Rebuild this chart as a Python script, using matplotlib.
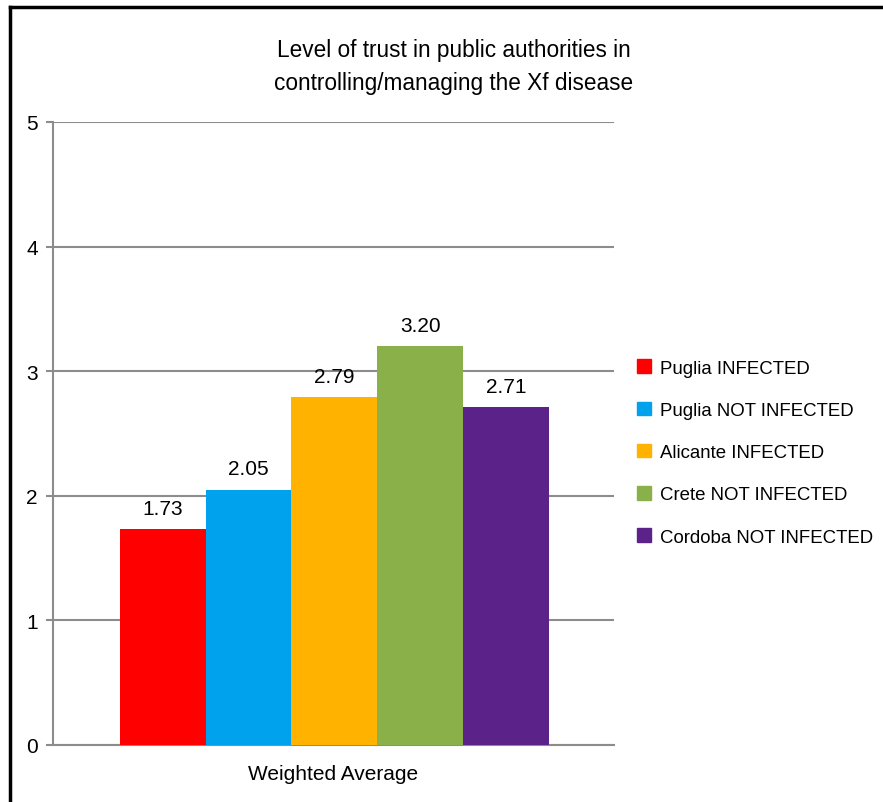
import matplotlib
matplotlib.use("Agg")
import matplotlib.pyplot as plt
from matplotlib.lines import Line2D
from matplotlib.patches import Patch

plt.rcParams['font.family'] = ['Liberation Sans', 'DejaVu Sans']

categories = ["Puglia INFECTED", "Puglia NOT INFECTED", "Alicante INFECTED",
              "Crete NOT INFECTED", "Cordoba NOT INFECTED"]
values = [1.73, 2.05, 2.79, 3.20, 2.71]
labels = ["1.73", "2.05", "2.79", "3.20", "2.71"]
colors = ["#FF0000", "#00A2EE", "#FFB300", "#8AB04A", "#5B2289"]
yticks = [0, 1, 2, 3, 4, 5]
xlabel = "Weighted Average"
title = "Level of trust in public authorities in\ncontrolling/managing the Xf disease"

W, H = 883, 803
fig = plt.figure(figsize=(W / 100, H / 100), dpi=100)
ax = fig.add_axes([53 / W, (H - 746) / H, 561 / W, 623 / H])

x = list(range(len(values)))
ax.bar(x, values, width=1.0, color=colors, zorder=3)
for xi, v, lab in zip(x, values, labels):
    ax.annotate(lab, (xi, v), xytext=(0, 8), textcoords="offset points",
                ha="center", va="bottom", fontsize=15, color="black")

ax.set_xlim(-1.28, 5.26)
ax.set_ylim(0, 5)
ax.set_yticks(yticks)
ax.set_yticklabels([str(t) for t in yticks], fontsize=15)
ax.set_xticks([])
ax.grid(axis="y", color="#8c8c8c", linewidth=1.5, zorder=0)
for s in ["top", "right"]:
    ax.spines[s].set_visible(False)
for s in ["left", "bottom"]:
    ax.spines[s].set_color("#8c8c8c")
    ax.spines[s].set_linewidth(1.5)
ax.tick_params(axis="y", length=5, width=1.5, color="#8c8c8c", pad=6)
ax.set_xlabel(xlabel, fontsize=15, labelpad=14)

fig.text(454 / W, (H - 67) / H, title, ha="center", va="center",
         fontsize=16.3, linespacing=1.6)

handles = [Patch(facecolor=c, edgecolor=c) for c in colors]
fig.legend(handles, categories, loc="center left",
           bbox_to_anchor=(637 / W, (H - 453.5) / H), frameon=False,
           fontsize=13.4, handlelength=0.75, handleheight=0.75,
           handletextpad=0.5, labelspacing=1.34, borderpad=0, borderaxespad=0)

# outer frame (left and top edges)
fig.add_artist(Line2D([10 / W, 10 / W], [0, (H - 8) / H], color="black",
                      linewidth=2.5, transform=fig.transFigure))
fig.add_artist(Line2D([10 / W, 1], [(H - 8) / H, (H - 8) / H], color="black",
                      linewidth=2.5, transform=fig.transFigure))

fig.savefig("out.png", dpi=100)
